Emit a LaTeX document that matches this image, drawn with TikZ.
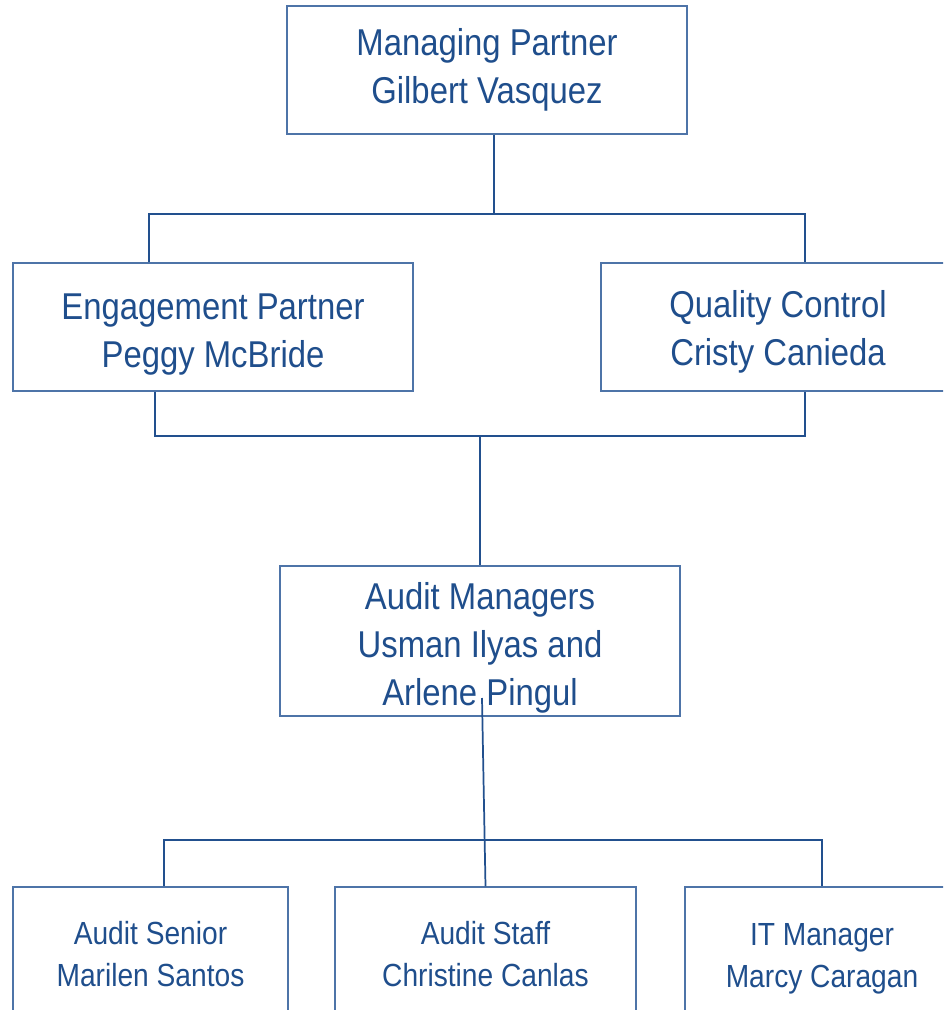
\documentclass[tikz,border=0pt]{standalone}
\usepackage{fontspec}
\setmainfont{Liberation Sans}[FakeStretch=0.88]
\definecolor{txtblue}{RGB}{31,78,140}
\definecolor{lineblue}{RGB}{34,80,142}
\definecolor{boxblue}{RGB}{78,116,168}
\begin{document}
\begin{tikzpicture}[x=0.75pt,y=-0.75pt]
    \tikzstyle{post}=[draw=boxblue, line width=1pt, text=txtblue, align=center, inner sep=0pt, font=\fontsize{28}{36}\selectfont]
    \tikzstyle{staffbox}=[post, minimum height=100.5pt, font=\fontsize{24}{31.5}\selectfont]
    \tikzstyle{link}=[draw=lineblue, line width=1.3pt]
    \useasboundingbox (0,0) rectangle (943,1010);
    \clip (0,0) rectangle (943,1010);
    \node[post, minimum width=300pt, minimum height=96pt] (mp) at (487,70) {Managing Partner\\Gilbert Vasquez};
    \node[post, minimum width=300pt, minimum height=96pt, text height=66.5pt] (ep) at (213,327) {Engagement Partner\\Peggy McBride};
    \node[post, minimum width=265.5pt, minimum height=96pt, text height=63.8pt] (qc) at (778,327) {Quality Control\\Cristy Canieda};
    \node[post, minimum width=300pt, minimum height=112.5pt, text height=102.5pt] (am) at (480,641) {Audit Managers\\Usman Ilyas and\\Arlene Pingul};
    \node[staffbox, minimum width=206.25pt] (as) at (150.5,954) {Audit Senior\\Marilen Santos};
    \node[staffbox, minimum width=225.75pt] (st) at (485.5,954) {Audit Staff\\Christine Canlas};
    \node[staffbox, minimum width=205.5pt, text height=54.7pt] (it) at (822,954) {IT Manager\\Marcy Caragan};
    \coordinate (top) at (494,214);
    \coordinate (mid) at (480,436);
    \coordinate (low) at (485,840);
    \draw[link] (top) -- (top |- mp.south);
    \draw[link] ([xshift=-48pt]ep.north) |- (top) -| ([xshift=20.25pt]qc.north);
    \draw[link] ([xshift=-43.5pt]ep.south) |- (mid) -| ([xshift=20.25pt]qc.south);
    \draw[link] (mid) -- (am.north);
    \draw[link] ([xshift=1.5pt,yshift=14pt]am.south) -- (st.north);
    \draw[link] ([xshift=10pt]as.north) |- (low) -| (it.north);
  \end{tikzpicture}
\end{document}
